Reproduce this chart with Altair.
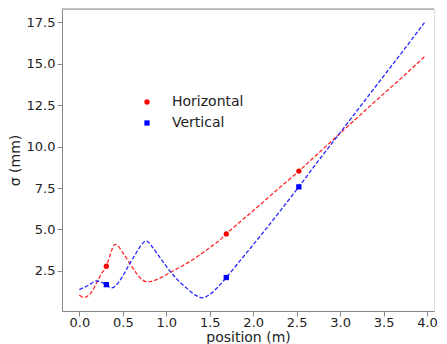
import altair as alt
import pandas as pd

# Horizontal (red) sigma curve
h_pos = [0.00, 0.03, 0.06, 0.10, 0.14, 0.20, 0.25, 0.31, 0.35, 0.38, 0.41, 0.44,
         0.50, 0.58, 0.65, 0.72, 0.78, 0.85, 0.95, 1.05, 1.15, 1.25, 1.35, 1.45,
         1.55, 1.62, 1.69, 1.82, 2.00, 2.25, 2.525, 2.75, 2.98, 3.25, 3.50, 3.75, 3.98]
h_sig = [1.04, 0.93, 0.90, 1.00, 1.22, 1.80, 2.30, 2.78, 3.40, 3.85, 4.10, 4.02,
         3.60, 2.95, 2.40, 1.98, 1.83, 1.90, 2.12, 2.42, 2.70, 3.00, 3.34, 3.71,
         4.10, 4.38, 4.73, 5.33, 6.13, 7.28, 8.52, 9.60, 10.70, 12.00, 13.18, 14.35, 15.47]

# Vertical (blue) sigma curve
v_pos = [0.00, 0.10, 0.20, 0.25, 0.31, 0.37, 0.42, 0.50, 0.58, 0.65, 0.71, 0.77,
         0.83, 0.90, 0.98, 1.05, 1.15, 1.25, 1.33, 1.416, 1.50, 1.58, 1.69, 1.85,
         2.07, 2.30, 2.525, 2.75, 2.98, 3.25, 3.50, 3.75, 3.97]
v_sig = [1.37, 1.62, 1.89, 1.82, 1.67, 1.47, 1.62, 2.20, 2.95, 3.55, 4.05, 4.32,
         4.00, 3.50, 2.92, 2.44, 1.85, 1.38, 1.05, 0.88, 1.08, 1.45, 2.10, 3.12,
         4.53, 6.05, 7.57, 9.15, 10.70, 12.55, 14.25, 15.95, 17.48]

# Measured points (markers)
m_pos = [0.31, 1.69, 2.525]
m_h = [2.78, 4.73, 8.52]
m_v = [1.67, 2.10, 7.57]

series = ["Horizontal", "Vertical"]
colors = ["#ff0000", "#0000ff"]
shapes = ["circle", "square"]
x_ticks = [0.0, 0.5, 1.0, 1.5, 2.0, 2.5, 3.0, 3.5, 4.0]
y_ticks = [2.5, 5.0, 7.5, 10.0, 12.5, 15.0, 17.5]

lines = pd.concat([
    pd.DataFrame({"pos": h_pos, "sig": h_sig, "curve": "Horizontal"}),
    pd.DataFrame({"pos": v_pos, "sig": v_sig, "curve": "Vertical"}),
])
marks = pd.concat([
    pd.DataFrame({"pos": m_pos, "sig": m_h, "plane": "Horizontal"}),
    pd.DataFrame({"pos": m_pos, "sig": m_v, "plane": "Vertical"}),
])
legend_df = pd.DataFrame({"plane": series})

W, H = 372, 302
FONT = "DejaVu Sans"

xs = alt.Scale(domain=[-0.2, 4.08], nice=False, zero=False)
ys = alt.Scale(domain=[0.08, 18.3], nice=False, zero=False)
cs = alt.Scale(domain=series, range=colors)
ss = alt.Scale(domain=series, range=shapes)
ls = alt.Scale(type="point", domain=series, range=[93, 114], padding=0)

xax = alt.Axis(values=x_ticks, format=".1f", title="position (m)", grid=False,
               labelFontSize=13, titleFontSize=14, labelFont=FONT, titleFont=FONT,
               labelColor="#222", titleColor="#222", titleFontWeight="normal",
               domainColor="#888", tickColor="#888", tickSize=5, labelPadding=0,
               titleY=30, titleBaseline="alphabetic", labelFlush=False)
yax = alt.Axis(values=y_ticks, format=".1f", title="σ (mm)", grid=False,
               labelFontSize=13, titleFontSize=14, labelFont=FONT, titleFont=FONT,
               labelColor="#222", titleColor="#222", titleFontWeight="normal",
               domainColor="#888", tickColor="#888", tickSize=5, labelPadding=2,
               titleX=-43, titleBaseline="alphabetic", labelFlush=False)

line_layer = alt.Chart(lines).mark_line(strokeDash=[4, 2], strokeWidth=1.3,
                                        opacity=0.85, interpolate="monotone").encode(
    x=alt.X("pos:Q", scale=xs, axis=xax),
    y=alt.Y("sig:Q", scale=ys, axis=yax),
    stroke=alt.Stroke("curve:N", scale=cs, legend=None),
    detail="curve:N",
)

point_layer = alt.Chart(marks).mark_point(filled=True, size=28, opacity=1).encode(
    x=alt.X("pos:Q", scale=xs),
    y=alt.Y("sig:Q", scale=ys, axis=None),
    color=alt.Color("plane:N", scale=cs, legend=None),
    shape=alt.Shape("plane:N", scale=ss, legend=None),
)

legend_sym = alt.Chart(legend_df).mark_point(filled=True, size=28, opacity=1).encode(
    x=alt.value(85),
    y=alt.Y("plane:N", scale=ls, axis=None),
    color=alt.Color("plane:N", scale=cs, legend=None),
    shape=alt.Shape("plane:N", scale=ss, legend=None),
)
legend_txt = alt.Chart(legend_df).mark_text(align="left", baseline="middle", font=FONT,
                                            fontSize=14, color="#222").encode(
    x=alt.value(110),
    y=alt.Y("plane:N", scale=ls, axis=None),
    text="plane:N",
)

spine = pd.DataFrame({"edge": ["top"]})
top_spine = alt.Chart(spine).mark_rule(color="#888", strokeWidth=1).encode(
    x=alt.value(0), x2=alt.value(W), y=alt.value(0)
)

chart = alt.layer(line_layer, point_layer, legend_sym, legend_txt, top_spine).resolve_scale(
    y="independent"
).properties(
    width=W, height=H,
    autosize=alt.AutoSizeParams(type="none"),
    padding={"left": 54, "top": 1, "right": 5, "bottom": 33},
).configure_view(stroke=None).configure(background="white")

chart.save("out.html", embed_options={"renderer": "svg", "actions": False})
